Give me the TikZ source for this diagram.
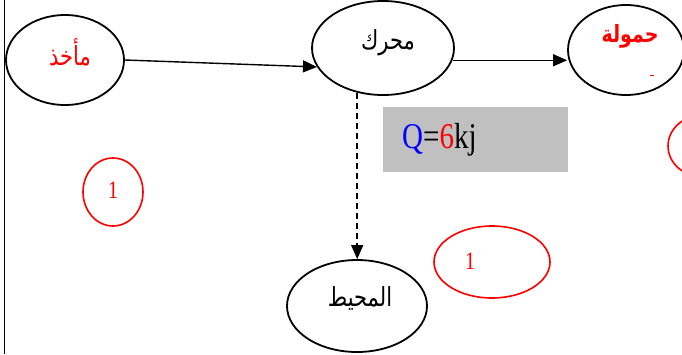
\documentclass[tikz,border=0pt]{standalone}
\usepackage{fontspec}
\setmainfont{Liberation Serif}
\newfontfamily\arabicfont[Script=Arabic]{DejaVu Sans}
\TeXXeTstate=1
\usetikzlibrary{shapes.geometric,arrows.meta}
\newcommand\tallbox[1]{\scalebox{1}[1.25]{#1}}
\definecolor{boxgray}{RGB}{192,192,192}
\begin{document}
\begin{tikzpicture}[x=1pt,y=-1pt,
  oval/.style={draw, ellipse, line width=1.8pt, inner sep=0pt},
  redoval/.style={draw=red, ellipse, line width=1.6pt, inner sep=0pt},
  arr/.style={line width=1.4pt, -{Triangle[length=14pt,width=12pt]}},
  artext/.style={inner sep=0pt, font=\arabicfont\fontsize{21}{24}\selectfont},
  numtext/.style={inner sep=0pt, text=red, font=\fontsize{20}{24}\selectfont},
  ]
\useasboundingbox (0,0) rectangle (682,354);
\draw[line width=0.9pt] (4,0) -- (4,354);
% main ellipses
\node[oval, minimum width=118pt, minimum height=90pt] (src) at (65,60) {};
\node[oval, minimum width=142pt, minimum height=94pt] (eng) at (383,48) {};
\node[oval, minimum width=116pt, minimum height=90pt] (load) at (626,50) {};
\node[oval, minimum width=140pt, minimum height=92pt] (env) at (357,306) {};
% texts
\node[artext, text=red] (srct) at (70,52) {\tallbox{\beginR مأخذ\endR}};
\node[artext] (engt) at (388,43) {\tallbox{\beginR محرك\endR}};
\node[artext, font=\arabicfont\bfseries\fontsize{19}{22}\selectfont, text=red] (loadt) at (630,36) {\tallbox{\beginR حمولة\endR}};
\node[artext] (envt) at (360,298) {\tallbox{\beginR المحيط\endR}};
\fill[red] (650,74.5) rectangle (654,76);
% connectors
\draw[arr] (src.east) -- (eng.196);
\draw[arr] (eng.-10) -- (eng.-10 -| load.west);
\draw[arr, dash pattern=on 6pt off 4pt] (eng.240) -- (eng.240 |- env.north);
% gray box
\node[fill=boxgray, minimum width=185pt, minimum height=65pt, inner sep=0pt] (box) at (475.5,139.5) {};
\node[anchor=base west, inner sep=0pt, font=\fontsize{29}{34}\selectfont] (q) at (402,148) {\tallbox{\textcolor{blue}{Q}=\textcolor{red}{6}kj}};
% red ellipses
\node[redoval, minimum width=60pt, minimum height=68pt] (c1) at (113,192) {};
\node[numtext] (c1t) at (113,190) {\tallbox{1}};
\node[redoval, minimum width=116pt, minimum height=72pt] (c2) at (492,262) {};
\node[numtext] (c2t) at (470,261) {\tallbox{1}};
\node[redoval, minimum width=70pt, minimum height=62pt] (c3) at (703,146) {};
\end{tikzpicture}
\end{document}
